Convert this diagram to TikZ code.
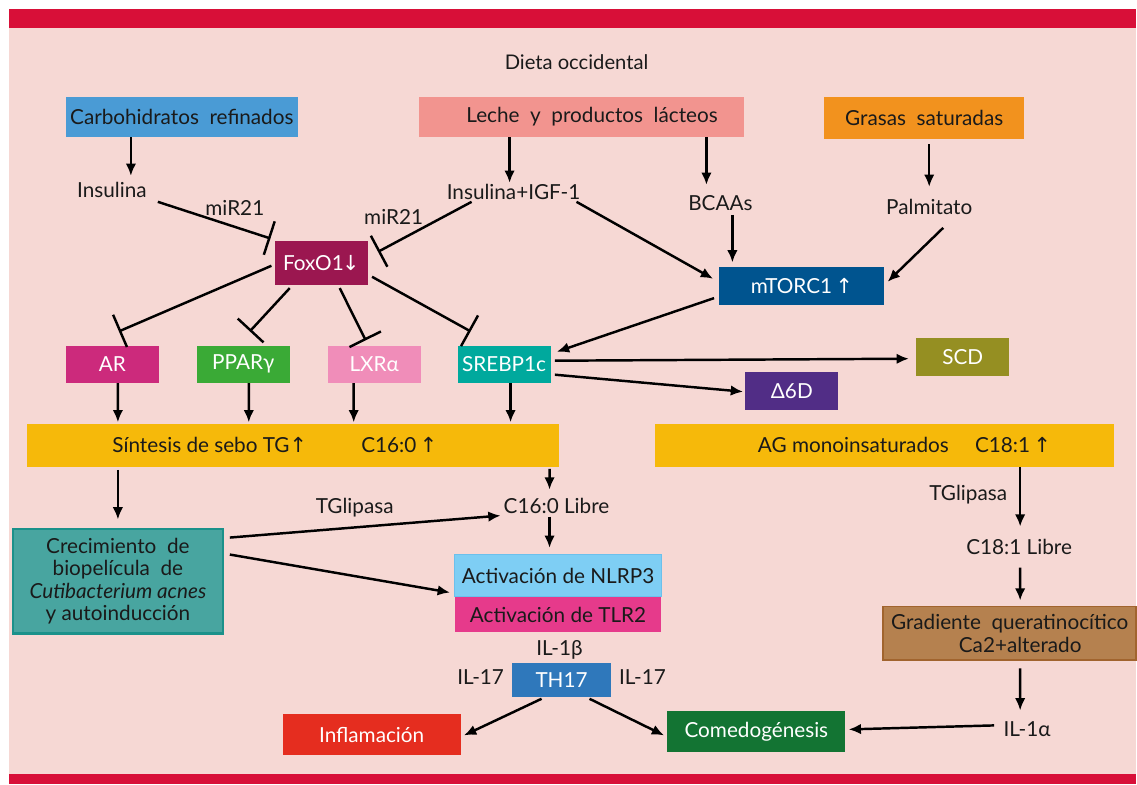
\documentclass[tikz,border=0pt]{standalone}
\usepackage{fontspec}
\setmainfont{Lato}
\newfontfamily\arrowfont{DejaVu Sans}
\usetikzlibrary{arrows.meta}
\usetikzlibrary{calc}

\definecolor{bandred}{HTML}{D80F38}
\definecolor{bgpink}{HTML}{F6D8D4}
\definecolor{carbblue}{HTML}{4A9BD5}
\definecolor{lechesalmon}{HTML}{F2948F}
\definecolor{grasaorange}{HTML}{F2921E}
\definecolor{foxomaroon}{HTML}{9B1750}
\definecolor{mtorblue}{HTML}{00548F}
\definecolor{armagenta}{HTML}{CC2A7C}
\definecolor{ppargreen}{HTML}{3AAA36}
\definecolor{lxrpink}{HTML}{F08DB9}
\definecolor{srebpteal}{HTML}{00A99D}
\definecolor{scdolive}{HTML}{958F22}
\definecolor{dsixpurple}{HTML}{512D86}
\definecolor{sebogold}{HTML}{F6B90A}
\definecolor{crecteal}{HTML}{48A5A0}
\definecolor{crecedge}{HTML}{1B918A}
\definecolor{nlrpblue}{HTML}{7ECEF4}
\definecolor{nlrpedge}{HTML}{6CC0EC}
\definecolor{tlrpink}{HTML}{E63A8B}
\definecolor{thblue}{HTML}{2F78BB}
\definecolor{inflred}{HTML}{E52D1F}
\definecolor{comedogreen}{HTML}{137433}
\definecolor{gradbrown}{HTML}{B5814F}
\definecolor{gradedge}{HTML}{A1642E}
\definecolor{inkblack}{HTML}{1A1A1A}

\newcommand{\lbl}{\fontsize{11.8}{12.8}\selectfont}
\newcommand{\uparr}{{\arrowfont ↑}}
\newcommand{\dnarr}{{\arrowfont ↓}}

\begin{document}
\begin{tikzpicture}[x=0.02cm,y=-0.02cm,
    box/.style={rectangle, inner sep=0pt, font=\lbl, text=inkblack},
    wbox/.style={box, text=white},
    txt/.style={inner sep=0pt, font=\lbl, text=inkblack},
    arr/.style={-{Latex[length=7pt,width=6pt]}, line width=1.4pt},
    inh/.style={-{Bar[width=20pt]}, line width=1.4pt}]

    % background and bands
    \fill[white] (0,0) rectangle (1137,785);
    \fill[bgpink] (9,9) rectangle (1137,785);
    \fill[bandred] (9,9) rectangle (1137,28);
    \fill[bandred] (9,775) rectangle (1137,785);

    \node[txt, font=\fontsize{11.5}{13}\selectfont] (title) at (577,62) {Dieta occidental};

    % diet sources
    \node[box, fill=carbblue, minimum width=4.64cm, minimum height=0.8cm] (carb) at (182,117) {Carbohidratos\ \ refinados};
    \node[box, fill=lechesalmon, minimum width=6.52cm, minimum height=0.8cm] (leche) at (582,117) {\hspace*{12pt}Leche\ \ y\ \ productos\ \ lácteos};
    \node[box, fill=grasaorange, minimum width=4cm, minimum height=0.84cm] (grasas) at (925,118) {Grasas\ \ saturadas};

    \node[txt] (insulina) at (112,190) {Insulina};
    \node[txt] (insigf) at (514,192) {Insulina+IGF-1};
    \node[txt] (bcaa) at (721,203) {BCAAs};
    \node[txt] (palm) at (930,207) {Palmitato};
    \node[txt] (mira) at (235,208) {miR21};
    \node[txt] (mirb) at (394,217) {miR21};

    \node[wbox, fill=foxomaroon, minimum width=1.86cm, minimum height=0.88cm] (foxo) at (321.5,263) {FoxO1\kern-1pt\dnarr};
    \node[wbox, fill=mtorblue, minimum width=3.3cm, minimum height=0.76cm] (mtor) at (802.5,286) {mTORC1\,\uparr};

    % transcription factors
    \node[wbox, fill=armagenta, minimum width=1.86cm, minimum height=0.74cm] (ar) at (112.5,364.5) {AR};
    \node[wbox, fill=ppargreen, minimum width=1.86cm, minimum height=0.74cm] (ppar) at (243.5,364.5) {PPARγ};
    \node[wbox, fill=lxrpink, minimum width=1.86cm, minimum height=0.74cm] (lxr) at (374.5,364.5) {LXRα};
    \node[wbox, fill=srebpteal, minimum width=1.86cm, minimum height=0.74cm] (srebp) at (504.5,364.5) {SREBP1c};
    \node[wbox, fill=scdolive, minimum width=1.86cm, minimum height=0.76cm] (scd) at (963.5,357) {SCD};
    \node[wbox, fill=dsixpurple, minimum width=1.86cm, minimum height=0.76cm] (dsix) at (792.5,391) {Δ6D};

    \node[box, fill=sebogold, minimum width=10.66cm, minimum height=0.86cm] (sintesis) at (293.5,445.5) {Síntesis de sebo TG\uparr\hspace{31pt}C16:0\,\uparr\hspace*{21pt}};
    \node[box, fill=sebogold, minimum width=9.2cm, minimum height=0.86cm] (agmono) at (885,445.5) {\hspace*{23pt}AG monoinsaturados\hspace{15pt}C18:1\,\uparr};

    % lower part
    \node[box, fill=crecteal, draw=crecedge, line width=1.2pt, minimum width=4.2cm, minimum height=2.1cm, align=center] (crec) at (118,581.5) {Crecimiento\ \ de\\biopelícula\ \ de\\\textit{Cutibacterium acnes}\\y autoinducción};
    \node[txt] (cxvilibre) at (557,506) {C16:0 Libre};
    \node[txt] (tglipa) at (355,508) {TGlipasa};
    \node[box, fill=nlrpblue, draw=nlrpedge, line width=0.8pt, minimum width=4.14cm, minimum height=0.84cm] (nlrp) at (558.5,576) {Activación de NLRP3};
    \node[box, fill=tlrpink, minimum width=4.14cm, minimum height=0.72cm] (tlr) at (558.5,615) {Activación de TLR2};
    \node[txt] (ilbeta) at (560,650) {IL-1β};
    \node[wbox, fill=thblue, minimum width=2cm, minimum height=0.68cm] (thxvii) at (562,681) {TH17};
    \node[txt] (ilxviia) at (481,678) {IL-17};
    \node[txt] (ilxviib) at (643,678) {IL-17};
    \node[wbox, fill=inflred, minimum width=3.56cm, minimum height=0.82cm] (infl) at (372,735.5) {Inflamación};
    \node[wbox, fill=comedogreen, minimum width=3.56cm, minimum height=0.82cm] (comedo) at (757,732.5) {Comedogénesis};

    \node[txt] (tglipb) at (969,495) {TGlipasa};
    \node[txt] (cxviiilibre) at (1020,547) {C18:1 Libre};
    \node[box, fill=gradbrown, draw=gradedge, line width=1.1pt, minimum width=5.06cm, minimum height=1.08cm, align=center] (grad) at (1010.5,634) {Gradiente\ \ queratinocítico\\\hspace*{12pt}Ca2+alterado};
    \node[txt] (ilalfa) at (1028,730) {IL-1α};

    % activating arrows
    \draw[arr] ($(carb.south)+(-51,0)$) -- ($(insulina)+(19,-14)$);
    \draw[arr] ($(leche.south)+(-72,0)$) -- ($(insigf)+(-4,-9)$);
    \draw[arr] ($(leche.south)+(125,0)$) -- ($(bcaa)+(-14,-18)$);
    \draw[arr] ($(grasas.south)+(5,5)$) -- ($(palm)+(0,-20)$);
    \draw[arr] ($(bcaa)+(12,12)$) -- ($(mtor.north)+(-69.5,-4)$);
    \draw[arr] ($(insigf)+(63,10)$) -- ($(mtor.west)+(-6,-7)$);
    \draw[arr] ($(palm)+(14,21)$) -- ($(mtor.east)+(3,-4)$);
    \draw[arr] ($(mtor.south west)+(-5,-7)$) -- ($(srebp.east)+(6,-12.5)$);
    \draw[arr] ($(srebp.east)+(4,-3.5)$) -- ($(scd.west)+(-7,2)$);
    \draw[arr] ($(srebp.east)+(4,10.5)$) -- ($(dsix.west)+(-2,1)$);

    % inhibitions
    \draw[inh] ($(insulina)+(46,12)$) -- ($(foxo.north west)+(-4,-2)$);
    \draw[inh] ($(insigf)+(-42,10)$) -- ($(foxo.east)+(10,-11)$);
    \draw[inh] ($(foxo.west)+(-3,3)$) -- ($(ar.north)+(6.5,-14)$);
    \draw[inh] ($(foxo.south)+(-31.5,3)$) -- ($(ppar.north)+(6.5,-14)$);
    \draw[inh] ($(foxo.south)+(18.5,3)$) -- ($(lxr.north)+(-8.5,-5)$);
    \draw[inh] ($(foxo.east)+(4,14)$) -- ($(srebp.north)+(-33.5,-14)$);

    % into sebum synthesis
    \draw[arr] ($(ar.south)+(5.5,0)$) -- ($(sintesis.north)+(-175.5,-1)$);
    \draw[arr] ($(ppar.south)+(5.5,0)$) -- ($(sintesis.north)+(-44.5,-1)$);
    \draw[arr] ($(lxr.south)+(-20.5,0)$) -- ($(sintesis.north)+(60.5,-1)$);
    \draw[arr] ($(srebp.south)+(6.5,0)$) -- ($(sintesis.north)+(217.5,-1)$);

    \draw[arr] ($(sintesis.south)+(-175.5,3)$) -- ($(crec.north)+(0,-8)$);
    \draw[arr] ($(sintesis.south)+(256.5,2)$) -- ($(cxvilibre)+(-7,-16)$);
    \draw[arr] ($(crec.east)+(6,-43.5)$) -- ($(cxvilibre)+(-56,10)$);
    \draw[arr] ($(cxvilibre)+(-7,11)$) -- ($(nlrp.north)+(-8.5,-6)$);
    \draw[arr] ($(crec.east)+(6,-26.5)$) -- ($(nlrp.west)+(-4,17)$);
    \draw[arr] ($(thxvii.south)+(-20,1)$) -- ($(infl.east)+(3,0.5)$);
    \draw[arr] ($(thxvii.south)+(28,1)$) -- ($(comedo.west)+(-3,3.5)$);

    % right column
    \draw[arr] ($(agmono.south)+(136,0)$) -- ($(cxviiilibre)+(1,-20)$);
    \draw[arr] ($(cxviiilibre)+(1,21)$) -- ($(grad.north)+(10.5,-5)$);
    \draw[arr] ($(grad.south)+(10.5,7)$) -- ($(ilalfa)+(-7,-19)$);
    \draw[arr] ($(ilalfa)+(-33,-4)$) -- ($(comedo.east)+(3,-2.5)$);
\end{tikzpicture}
\end{document}
